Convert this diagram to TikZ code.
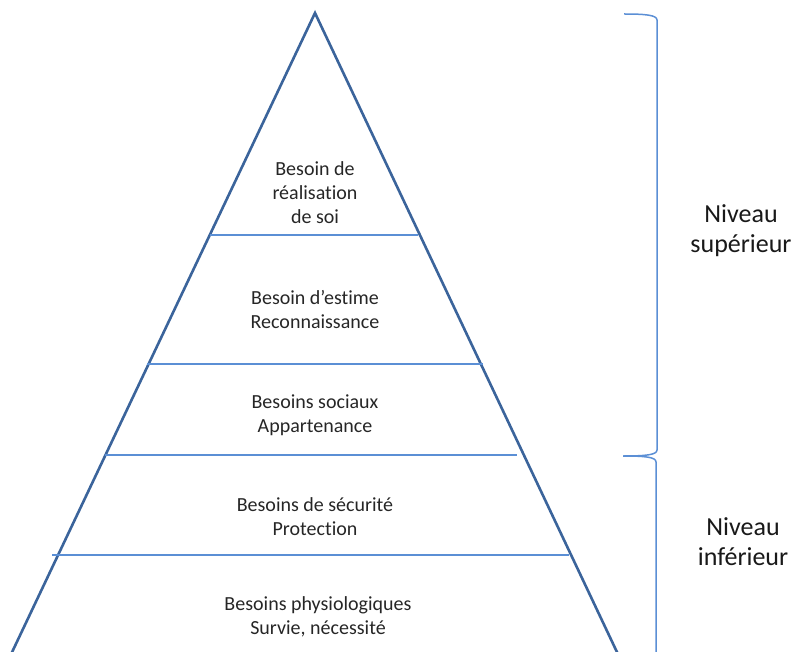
\documentclass[tikz,border=0pt]{standalone}
\usepackage{fontspec}
\setmainfont[Ligatures={NoCommon}]{Carlito}
\begin{document}
\begin{tikzpicture}[x=1pt,y=-1pt,
  edge/.style={draw={rgb,255:red,59;green,100;blue,155},line width=2.6pt,line join=miter},
  tier/.style={draw={rgb,255:red,91;green,143;blue,213},line width=1.5pt},
  brace/.style={draw={rgb,255:red,91;green,143;blue,213},line width=1.5pt},
  lbl/.style={align=center,font=\fontsize{20}{24}\selectfont,inner sep=0pt,text=black!85},
  lvl/.style={align=center,font=\fontsize{26}{30}\selectfont,inner sep=0pt,text=black!90}]
\useasboundingbox (0,0) rectangle (794,652);
\clip (0,0) rectangle (794,652);
% pyramid outline
\coordinate (apex) at (315,13);
\coordinate (bl) at (-4,686);
\coordinate (br) at (633,686);
\draw[edge] (bl) -- (apex) -- (br);
% tier separators
\coordinate (t1l) at (210,235); \coordinate (t1r) at (418,235);
\coordinate (t2l) at (147,364); \coordinate (t2r) at (483,364);
\coordinate (t3l) at (105,455); \coordinate (t3r) at (517,455);
\coordinate (t4l) at (52,555);  \coordinate (t4r) at (569,555);
\draw[tier] (t1l) -- (t1r);
\draw[tier] (t2l) -- (t2r);
\draw[tier] (t3l) -- (t3r);
\draw[tier] (t4l) -- (t4r);
% tier labels
\node[lbl] (self) at (315,193) {Besoin de\\réalisation\\de soi};
\node[lbl] (esteem) at (315,310) {Besoin d’estime\\Reconnaissance};
\node[lbl] (social) at (315,415) {Besoins sociaux\\Appartenance};
\node[lbl] (safety) at (315,517) {Besoins de sécurité\\Protection};
\node[lbl] (physio) at (318,617) {Besoins physiologiques\\Survie, nécessité};
% level brackets
\coordinate (ut) at (624,14);
\coordinate (mid) at (623,456);
\coordinate (lb) at (656,660);
\draw[brace] (ut) .. controls (645,14) and (657,15) .. (657,20)
  -- (657,450) .. controls (657,455) and (645,456) .. (mid);
\draw[brace] (mid) .. controls (645,456) and (656,457) .. (656,462) -- (lb);
\node[lvl] (upper) at (741,231) {Niveau\\supérieur};
\node[lvl] (lower) at (743,542) {Niveau\\inférieur};
\end{tikzpicture}
\end{document}
